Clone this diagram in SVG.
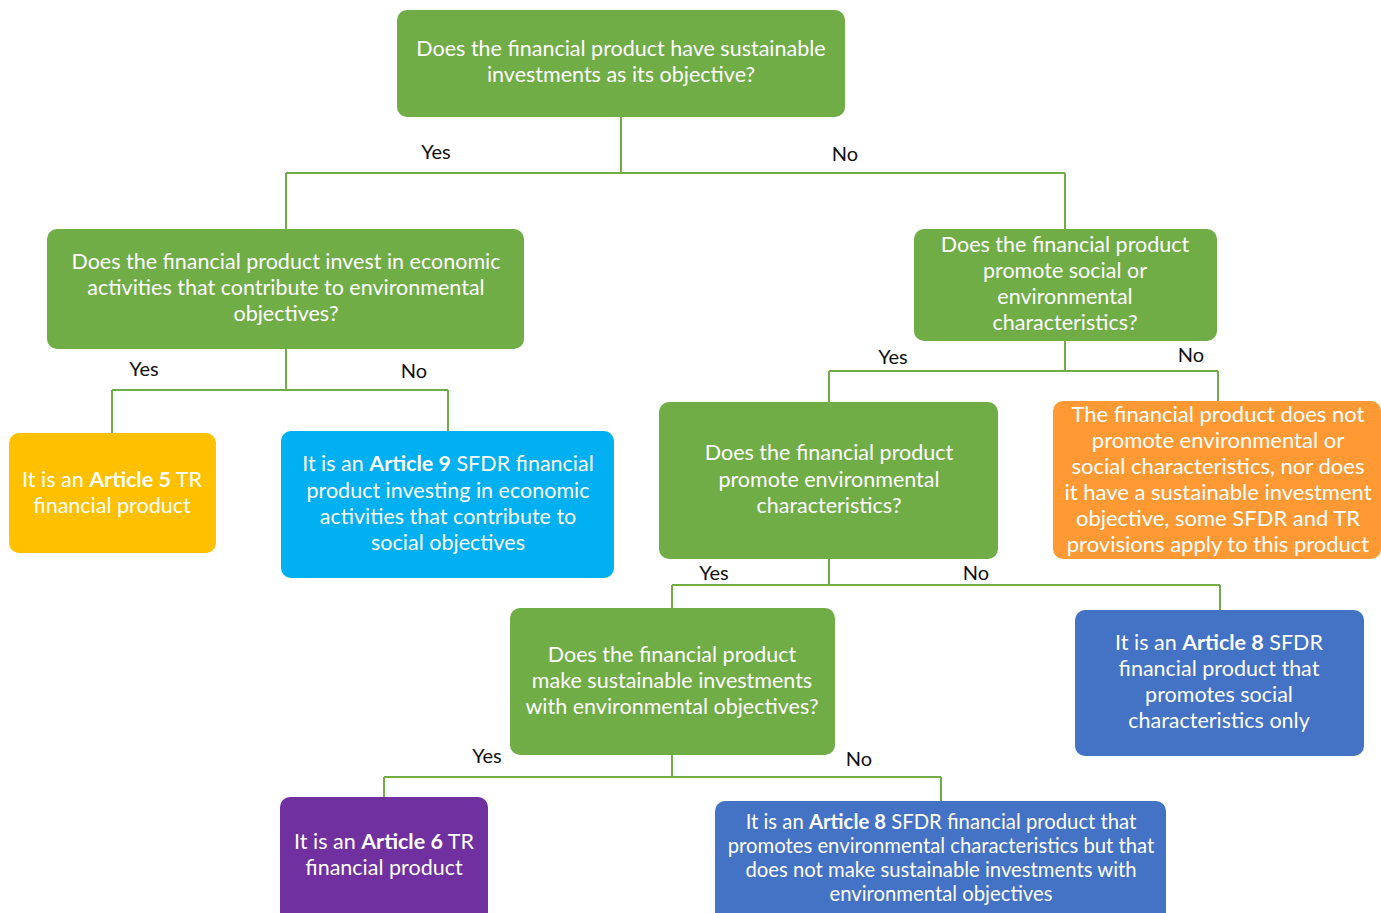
<svg xmlns="http://www.w3.org/2000/svg" width="1381" height="913" viewBox="0 0 1381 913">
<style>
.box{stroke:none}
.g{fill:#70AD47}
.t{font-family:Lato,"Liberation Sans",sans-serif;font-size:21.5px;fill:#FFFFFF;text-anchor:middle;dominant-baseline:central}
.s{font-size:20.3px}
.o{font-size:22px}
.b{font-weight:bold}
.lbl{font-family:Lato,"Liberation Sans",sans-serif;font-size:20px;fill:#111;text-anchor:middle;dominant-baseline:central}
.c{fill:none;stroke:#70AD47;stroke-width:2}
</style>
<rect width="1381" height="913" fill="#FFFFFF"/>
<g id="connectors">
<path class="c" d="M621,117 V173 M286,173 H1065 M286,173 V229 M1065,173 V229"/>
<path class="c" d="M286,349 V390 M112,390 H448 M112,390 V433 M448,390 V431"/>
<path class="c" d="M1065,341 V371 M829,371 H1218 M829,371 V402 M1218,371 V401"/>
<path class="c" d="M829,559 V585 M672,585 H1220 M672,585 V608 M1220,585 V610"/>
<path class="c" d="M672,755 V777 M384,777 H941 M384,777 V797 M941,777 V801"/>
<text class="lbl" x="436" y="151">Yes</text>
<text class="lbl" x="845" y="153">No</text>
<text class="lbl" x="144" y="368">Yes</text>
<text class="lbl" x="414" y="370">No</text>
<text class="lbl" x="893" y="356">Yes</text>
<text class="lbl" x="1191" y="354">No</text>
<text class="lbl" x="714" y="572">Yes</text>
<text class="lbl" x="976" y="572">No</text>
<text class="lbl" x="487" y="755">Yes</text>
<text class="lbl" x="859" y="758">No</text>
</g>
<g id="q1">
<rect class="box g" x="397" y="10" width="448" height="107" rx="10"/>
<text class="t" x="621" y="48">Does the financial product have sustainable</text>
<text class="t" x="621" y="74">investments as its objective?</text>
</g>
<g id="q2">
<rect class="box g" x="47" y="229" width="477" height="120" rx="10"/>
<text class="t" x="286" y="261">Does the financial product invest in economic</text>
<text class="t" x="286" y="287">activities that contribute to environmental</text>
<text class="t" x="286" y="313">objectives?</text>
</g>
<g id="q3">
<rect class="box g" x="914" y="229" width="303" height="112" rx="10"/>
<text class="t" x="1065" y="244">Does the financial product</text>
<text class="t" x="1065" y="270">promote social or</text>
<text class="t" x="1065" y="296">environmental</text>
<text class="t" x="1065" y="322">characteristics?</text>
</g>
<g id="art5">
<rect class="box" fill="#FFC000" x="9" y="433" width="207" height="120" rx="10"/>
<text class="t" x="112" y="479">It is an <tspan class="b">Article 5</tspan> TR</text>
<text class="t" x="112" y="505">financial product</text>
</g>
<g id="art9">
<rect class="box" fill="#00B0F0" x="281" y="431" width="333" height="147" rx="10"/>
<text class="t" x="448" y="463">It is an <tspan class="b">Article 9</tspan> SFDR financial</text>
<text class="t" x="448" y="490">product investing in economic</text>
<text class="t" x="448" y="516">activities that contribute to</text>
<text class="t" x="448" y="542">social objectives</text>
</g>
<g id="q4">
<rect class="box g" x="659" y="402" width="339" height="157" rx="10"/>
<text class="t" x="829" y="452">Does the financial product</text>
<text class="t" x="829" y="479">promote environmental</text>
<text class="t" x="829" y="505">characteristics?</text>
</g>
<g id="none">
<rect class="box" fill="#FF9933" x="1053" y="401" width="328" height="158" rx="10"/>
<text class="t o" x="1218" y="413">The financial product does not</text>
<text class="t o" x="1218" y="439">promote environmental or</text>
<text class="t o" x="1218" y="465">social characteristics, nor does</text>
<text class="t o" x="1218" y="491">it have a sustainable investment</text>
<text class="t o" x="1218" y="517">objective, some SFDR and TR</text>
<text class="t o" x="1218" y="543">provisions apply to this product</text>
</g>
<g id="q5">
<rect class="box g" x="510" y="608" width="325" height="147" rx="10"/>
<text class="t" x="672" y="654">Does the financial product</text>
<text class="t" x="672" y="680">make sustainable investments</text>
<text class="t" x="672" y="706">with environmental objectives?</text>
</g>
<g id="art8social">
<rect class="box" fill="#4472C4" x="1075" y="610" width="289" height="146" rx="10"/>
<text class="t" x="1219" y="642">It is an <tspan class="b">Article 8</tspan> SFDR</text>
<text class="t" x="1219" y="668">financial product that</text>
<text class="t" x="1219" y="694">promotes social</text>
<text class="t" x="1219" y="720">characteristics only</text>
</g>
<g id="art6">
<rect class="box" fill="#7030A0" x="280" y="797" width="208" height="126" rx="10"/>
<text class="t" x="384" y="841">It is an <tspan class="b">Article 6</tspan> TR</text>
<text class="t" x="384" y="867">financial product</text>
</g>
<g id="art8env">
<rect class="box" fill="#4472C4" x="715" y="801" width="451" height="122" rx="10"/>
<text class="t s" x="941" y="821">It is an <tspan class="b">Article 8</tspan> SFDR financial product that</text>
<text class="t s" x="941" y="845">promotes environmental characteristics but that</text>
<text class="t s" x="941" y="869">does not make sustainable investments with</text>
<text class="t s" x="941" y="893">environmental objectives</text>
</g>
</svg>
